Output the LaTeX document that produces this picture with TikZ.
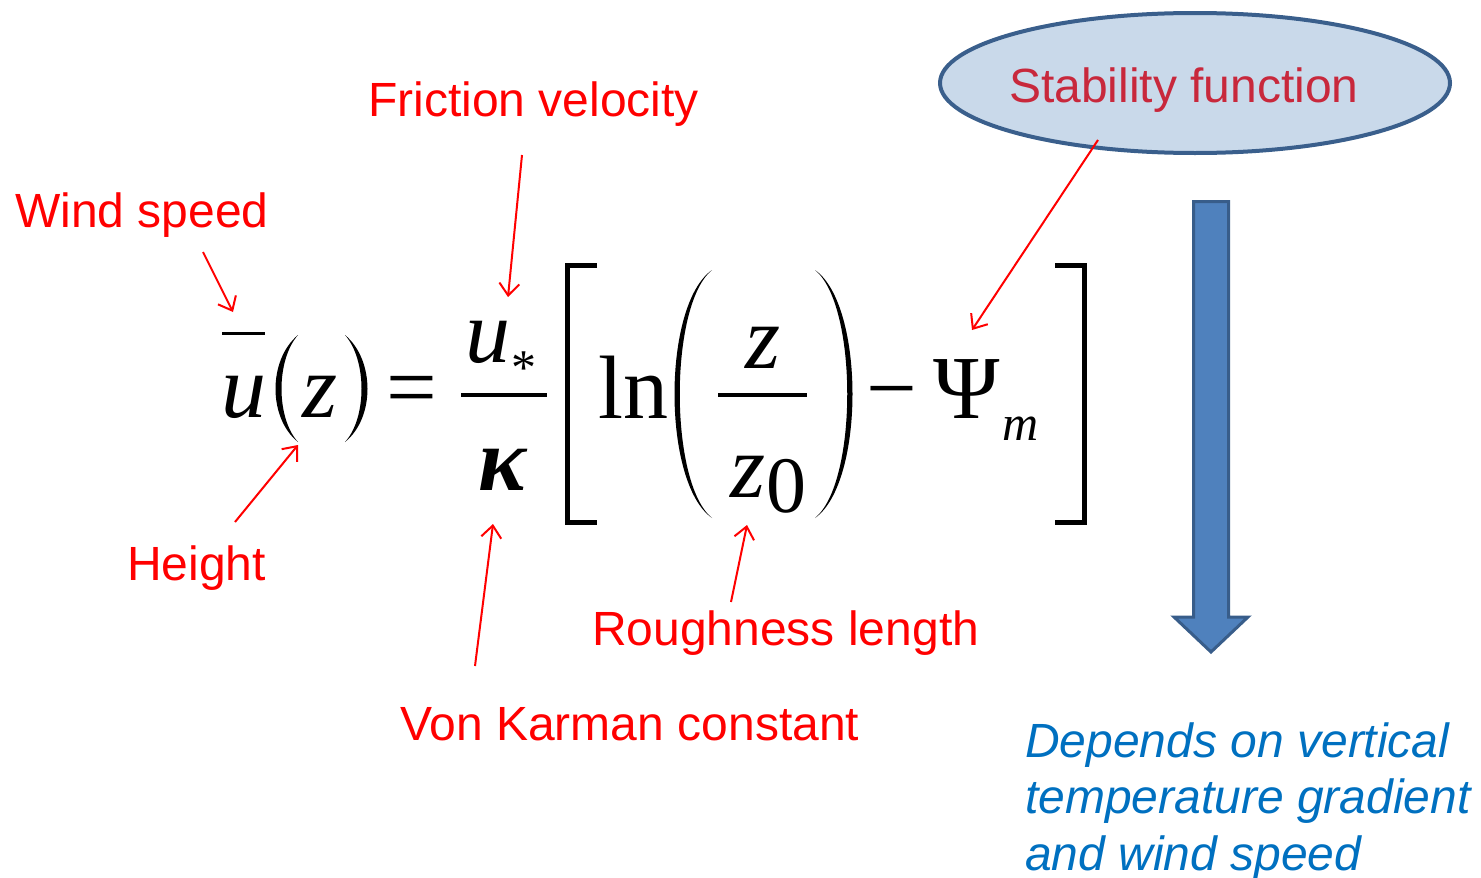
\documentclass[tikz,border=0pt]{standalone}
\usepackage{fontspec}
\setmainfont{Liberation Sans}
\newfontfamily\eqfont{Liberation Serif}
\usepackage{tikz}
\usetikzlibrary{arrows.meta, positioning, shapes.geometric, calc}
\definecolor{labelred}{RGB}{255,0,0}
\definecolor{stabred}{RGB}{200,40,60}
\definecolor{ovalfill}{RGB}{201,217,234}
\definecolor{ovaledge}{RGB}{58,95,140}
\definecolor{arrowfill}{RGB}{79,129,189}
\definecolor{arrowedge}{RGB}{56,93,138}
\definecolor{notetext}{RGB}{0,112,192}

\begin{document}
\begin{tikzpicture}[x=1pt, y=-1pt,
  lbl/.style={inner sep=0pt, anchor=base west, text=labelred,
              font=\fontsize{48}{56}\selectfont},
  sym/.style={inner sep=0pt, anchor=base west,
              font=\eqfont\itshape\fontsize{90}{90}\selectfont},
  eqrm/.style={inner sep=0pt, anchor=base west,
               font=\eqfont\fontsize{90}{90}\selectfont},
  ptr/.style={draw=labelred, line width=2pt,
              -{Straight Barb[length=12pt, width=20pt]}},
  fence/.style={fill=black}]
  \useasboundingbox (0,0) rectangle (1481,878);

  % the equation
  \node[sym] (ubar) at (221,417) {u};
  \draw[line width=3pt] (222,333) -- (265,333);
  \fill[fence] (298,335) .. controls (268,360) and (268,418) .. (298,442)
               .. controls (276,418) and (276,360) .. (298,335);
  \node[sym] (zh) at (302,417) {z};
  \fill[fence] (345,335) .. controls (375,360) and (375,418) .. (345,442)
               .. controls (367,418) and (367,360) .. (345,335);
  \node[eqrm] (eq) at (386,417) {=};

  \node[sym] (ustar) at (465,362) {u};
  \node[eqrm, font=\eqfont\fontsize{50}{50}\selectfont] (ast) at (511,384) {*};
  \draw[line width=4pt] (461,395) -- (547,395);
  \node[sym, font=\eqfont\bfseries\itshape\fontsize{90}{90}\selectfont] (kappa) at (478,490) {κ};

  \draw[line width=5pt] (597,265.5) -- (567.5,265.5) -- (567.5,522.5) -- (597,522.5);
  \node[eqrm] (ln) at (598,418) {ln};
  \fill[fence] (712,270) .. controls (662,305) and (662,483) .. (712,518)
               .. controls (669,483) and (669,305) .. (712,270);
  \node[sym] (znum) at (745,368) {z};
  \draw[line width=4pt] (718,395) -- (807,395);
  \node[sym] (zzero) at (730,497) {z};
  \node[eqrm, font=\eqfont\fontsize{80}{80}\selectfont] (zsub) at (766,512) {0};
  \fill[fence] (815,270) .. controls (865,305) and (865,483) .. (815,518)
               .. controls (858,483) and (858,305) .. (815,270);
  \node[eqrm] (minus) at (866,418) {−};
  \node[eqrm] (psi) at (933,418) {Ψ};
  \node[sym, font=\eqfont\itshape\fontsize{50}{50}\selectfont] (msub) at (1002,440) {m};
  \draw[line width=5pt] (1055,265.5) -- (1084.5,265.5) -- (1084.5,522.5) -- (1055,522.5);

  % labels
  \node[lbl] (wind) at (15,227) {Wind speed};
  \node[lbl] (friction) at (368,116) {Friction velocity};
  \node[lbl] (height) at (127,580) {Height};
  \node[lbl] (karman) at (400,740) {Von Karman constant};
  \node[lbl] (rough) at (592,645) {Roughness length};

  \node[ellipse, draw=ovaledge, fill=ovalfill, line width=4pt,
        minimum width=510pt, minimum height=140pt] (oval) at (1195,83) {};
  \node[lbl, text=stabred] (stab) at (1009,102) {Stability function};

  \foreach \a/\p/\b/\q in {wind/{188,25}/ubar/{12,-105},
                           friction/{154,39}/ustar/{43,-65},
                           height/{108,-58}/zh/{-4,28},
                           karman/{75,-74}/kappa/{15,34},
                           rough/{139,-43}/zzero/{17,28},
                           stab/{89,38}/psi/{39,-88}}
    \draw[ptr] ([shift={(\p)}]\a.base west) -- ([shift={(\q)}]\b.base west);

  % big arrow and note
  \filldraw[fill=arrowfill, draw=arrowedge, line width=3pt, line join=miter]
    (1193.5,201.5) -- (1228.5,201.5) -- (1228.5,617) -- (1248,617)
    -- (1211,652) -- (1174,617) -- (1193.5,617) -- cycle;
  \node[inner sep=0pt, anchor=base west, align=left, text=notetext,
        font=\itshape\fontsize{48}{56.5}\selectfont] (note) at (1025,870)
    {Depends on vertical\\temperature gradient\\and wind speed};
\end{tikzpicture}
\end{document}
